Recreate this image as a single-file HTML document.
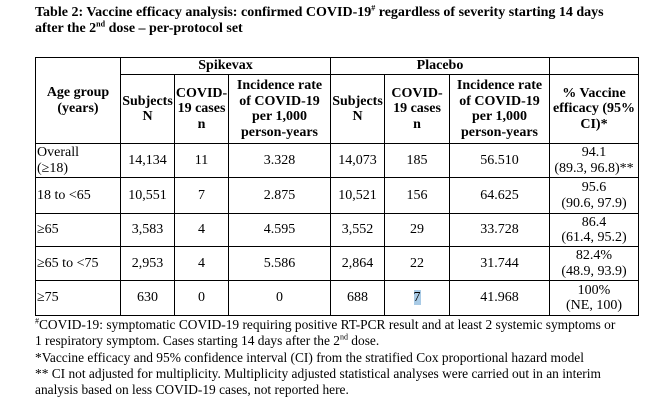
<!DOCTYPE html>
<html><head><meta charset="utf-8">
<style>
body{margin:0;width:660px;height:417px;background:#fff;font-family:"Liberation Serif",serif;color:#000;position:relative;overflow:hidden}
.title{position:absolute;left:35px;top:5px;font-weight:bold;font-size:14px;line-height:16px;width:595px}
table{position:absolute;left:35px;top:57px;border-collapse:collapse;table-layout:fixed;font-size:14px;line-height:15.5px}
td,th{border:1.3px solid #000;padding:0;text-align:center;vertical-align:middle}
th{font-weight:bold}
td.l{text-align:left;padding-left:1px}
.hl{background:#a9cbe6}
.fn{position:absolute;left:35px;top:317px;font-size:13.4px;line-height:16.3px;width:590px}
sup{font-size:8px;line-height:0}
</style></head><body>
<div class="title">Table 2: Vaccine efficacy analysis: confirmed COVID-19<sup>#</sup> regardless of severity starting 14 days after the 2<sup>nd</sup> dose – per-protocol set</div>
<table>
<colgroup><col style="width:85px"><col style="width:54px"><col style="width:54px"><col style="width:102px"><col style="width:54px"><col style="width:65px"><col style="width:100px"><col style="width:89px"></colgroup>
<tr style="height:17px"><th rowspan="2">Age group<br>(years)</th><th colspan="3">Spikevax</th><th colspan="3">Placebo</th><th></th></tr>
<tr style="height:69px"><th>Subjects<br>N</th><th>COVID-<br>19 cases<br>n</th><th>Incidence rate<br>of COVID-19<br>per 1,000<br>person-years</th><th>Subjects<br>N</th><th>COVID-<br>19 cases<br>n</th><th>Incidence rate<br>of COVID-19<br>per 1,000<br>person-years</th><th>% Vaccine<br>efficacy (95%<br>CI)*</th></tr>
<tr style="height:34px"><td class="l">Overall<br>(≥18)</td><td>14,134</td><td>11</td><td>3.328</td><td>14,073</td><td>185</td><td>56.510</td><td>94.1<br>(89.3, 96.8)**</td></tr>
<tr style="height:36px"><td class="l">18 to &lt;65</td><td>10,551</td><td>7</td><td>2.875</td><td>10,521</td><td>156</td><td>64.625</td><td>95.6<br>(90.6, 97.9)</td></tr>
<tr style="height:33px"><td class="l">≥65</td><td>3,583</td><td>4</td><td>4.595</td><td>3,552</td><td>29</td><td>33.728</td><td>86.4<br>(61.4, 95.2)</td></tr>
<tr style="height:34px"><td class="l">≥65 to &lt;75</td><td>2,953</td><td>4</td><td>5.586</td><td>2,864</td><td>22</td><td>31.744</td><td>82.4%<br>(48.9, 93.9)</td></tr>
<tr style="height:35px"><td class="l">≥75</td><td>630</td><td>0</td><td>0</td><td>688</td><td><span class="hl">7</span></td><td>41.968</td><td>100%<br>(NE, 100)</td></tr>
</table>
<div class="fn"><sup>#</sup>COVID-19: symptomatic COVID-19 requiring positive RT-PCR result and at least 2 systemic symptoms or<br>1 respiratory symptom. Cases starting 14 days after the 2<sup>nd</sup> dose.<br>*Vaccine efficacy and 95% confidence interval (CI) from the stratified Cox proportional hazard model<br>** CI not adjusted for multiplicity. Multiplicity adjusted statistical analyses were carried out in an interim<br>analysis based on less COVID-19 cases, not reported here.</div>
</body></html>
